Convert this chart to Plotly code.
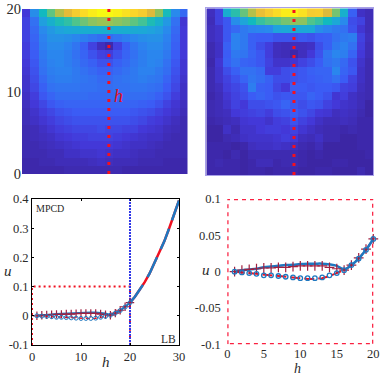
import plotly.graph_objects as go

W, H = 382, 375

parula = [[0, "#3c26a4"], [0.08, "#4338d8"], [0.15, "#3b5cf5"], [0.25, "#2a86ee"], [0.33, "#1fa3dc"],
          [0.42, "#12b9bf"], [0.52, "#4fc48c"], [0.63, "#a3c250"], [0.75, "#e2b93a"], [0.87, "#fbd22c"], [1, "#f8f812"]]

# rows listed from the top (h = 20) to the bottom (h = 0)
left_map = [
 [.08,.27,.42,.54,.66,.76,.84,.90,.96,1.0,1.0,.97,.92,.88,.84,.74,.60,.43,.26,.18],
 [.10,.20,.32,.38,.44,.47,.52,.56,.60,.62,.62,.60,.58,.54,.50,.44,.38,.30,.20,.07],
 [.10,.18,.26,.30,.33,.35,.36,.37,.37,.37,.37,.37,.37,.36,.35,.33,.31,.26,.18,.08],
 [.10,.17,.24,.28,.28,.27,.25,.23,.21,.19,.19,.21,.23,.25,.27,.28,.28,.24,.17,.08],
 [.09,.16,.23,.26,.26,.24,.21,.16,.10,.04,.01,.10,.16,.21,.24,.26,.26,.23,.16,.08],
 [.09,.15,.22,.25,.25,.23,.20,.17,.13,.10,.09,.13,.17,.20,.23,.25,.25,.22,.15,.08],
 [.08,.14,.21,.24,.25,.23,.21,.18,.16,.13,.13,.16,.18,.21,.23,.25,.24,.20,.14,.07],
 [.07,.13,.20,.23,.24,.24,.22,.20,.18,.16,.16,.18,.20,.22,.24,.24,.22,.19,.13,.07],
 [.06,.12,.18,.22,.23,.23,.22,.21,.20,.18,.18,.20,.21,.22,.23,.22,.21,.17,.12,.06],
 [.06,.11,.16,.20,.21,.21,.21,.20,.20,.19,.19,.20,.20,.21,.21,.20,.19,.15,.11,.05],
 [.05,.09,.14,.17,.19,.19,.19,.19,.18,.18,.18,.18,.19,.19,.19,.18,.16,.13,.09,.05],
 [.04,.08,.11,.14,.16,.17,.17,.17,.17,.17,.17,.17,.17,.17,.16,.15,.13,.10,.07,.04],
 [.03,.06,.09,.11,.13,.14,.15,.15,.15,.15,.15,.15,.15,.14,.13,.12,.10,.08,.06,.03],
 [.03,.05,.07,.09,.11,.12,.13,.13,.13,.13,.13,.13,.13,.12,.11,.09,.08,.06,.04,.02],
 [.02,.03,.05,.07,.09,.10,.11,.11,.11,.12,.11,.11,.10,.10,.08,.07,.06,.04,.03,.02],
 [.02,.03,.04,.05,.07,.08,.09,.09,.10,.10,.10,.09,.08,.07,.06,.05,.05,.03,.02,.02],
 [.02,.02,.03,.04,.05,.06,.07,.08,.08,.08,.08,.07,.06,.05,.05,.04,.03,.02,.02,.02],
 [.02,.02,.02,.03,.03,.05,.05,.06,.06,.07,.06,.05,.05,.04,.03,.03,.02,.02,.02,.02],
 [.01,.01,.02,.02,.03,.03,.03,.03,.04,.05,.04,.03,.03,.03,.02,.02,.02,.01,.01,.01],
 [.01,.01,.01,.01,.01,.02,.02,.02,.02,.02,.02,.02,.01,.01,.01,.01,.01,.01,.01,.01],
]
right_map = [
 [.04,.10,.37,.46,.55,.66,.78,.84,.90,.96,.98,.92,.84,.85,.74,.57,.38,.16,.05,.03],
 [.03,.10,.14,.27,.34,.42,.48,.52,.53,.57,.60,.60,.52,.48,.42,.35,.26,.12,.10,.03],
 [.04,.06,.14,.18,.22,.24,.25,.26,.33,.35,.36,.35,.35,.27,.24,.22,.20,.13,.07,.03],
 [.04,.06,.14,.24,.22,.16,.15,.15,.13,.13,.13,.14,.13,.15,.16,.20,.22,.23,.10,.04],
 [.02,.05,.16,.24,.22,.16,.12,.09,.04,.03,.04,.04,.05,.12,.16,.22,.24,.20,.09,.03],
 [.02,.05,.15,.22,.21,.17,.14,.09,.04,.03,.01,.04,.08,.13,.21,.25,.23,.17,.08,.03],
 [.01,.07,.16,.20,.17,.16,.14,.10,.06,.06,.07,.10,.12,.15,.20,.22,.18,.13,.06,.02],
 [.02,.06,.12,.16,.20,.20,.18,.09,.09,.12,.13,.14,.16,.17,.17,.25,.17,.14,.05,.02],
 [.02,.06,.10,.13,.17,.21,.19,.16,.12,.12,.13,.14,.15,.16,.17,.20,.15,.10,.05,.02],
 [.02,.04,.09,.11,.13,.23,.16,.15,.11,.08,.15,.15,.14,.15,.15,.14,.10,.09,.04,.02],
 [.01,.03,.07,.10,.12,.15,.17,.15,.13,.14,.14,.14,.17,.15,.13,.07,.09,.05,.03,.02],
 [.02,.03,.06,.10,.08,.12,.12,.13,.14,.17,.14,.12,.14,.13,.10,.08,.06,.05,.03,.00],
 [.02,.03,.04,.08,.09,.10,.11,.09,.12,.13,.15,.13,.11,.08,.07,.04,.05,.04,.02,.00],
 [.01,.02,.03,.04,.07,.08,.08,.06,.09,.10,.13,.10,.08,.05,.03,.03,.04,.03,.01,.01],
 [.00,.00,.05,.02,.06,.06,.08,.09,.09,.08,.10,.07,.05,.03,.02,.02,.01,.02,.01,.01],
 [.00,.00,.02,.03,.05,.06,.06,.06,.07,.09,.08,.04,.03,.05,.02,.02,.00,.00,.01,.01],
 [.01,.01,.01,.00,.01,.04,.05,.05,.06,.05,.04,.02,.01,.03,.00,.00,.00,.00,.01,.01],
 [.01,.01,.00,.02,.00,.02,.02,.02,.02,.02,.02,.01,.00,.01,.00,.00,.00,.00,.00,.01],
 [.01,.02,.01,.01,.00,.01,.03,.03,.01,.02,.02,.01,.00,.00,.00,.01,.01,.00,.00,.00],
 [.01,.01,.01,.01,.00,.01,.01,.00,.01,.01,.01,.00,.00,.01,.01,.00,.00,.00,.02,.00],
]
col_centres = [i + 0.5 for i in range(20)]
row_centres = [19.5 - i for i in range(20)]
probe_x = [10.5, 10.5]
probe_y = [0, 20]

h_mpcd = list(range(1, 21))
u_plus = [0, .002, .003, .004, .005, .005, .006, .006, .007, .008, .008, .008, .008, .006, .004, .002, .009, .019, .031, .045]
u_circle = [0, -.001, -.002, -.003, -.005, -.005, -.006, -.007, -.008, -.009, -.009, -.009, -.008, -.005, -.002, .002, .009, .018, .030, .045]
u_upper = [0, .002, .003, .004, .006, .007, .008, .009, .0095, .0105, .011, .011, .011, .010, .008, .003, .009, .018, .030, .045]
u_lower = [0, -.001, -.003, -.004, -.005, -.006, -.007, -.008, -.0085, -.0095, -.010, -.010, -.009, -.006, -.002, .002, .009, .018, .030, .045]
h_lb = [20, 21, 22, 23, 24, 25, 26, 27, 28, 29, 30]
u_lb = [.045, .065, .09, .115, .145, .18, .215, .255, .30, .345, .395]
box_h = [0, 0, 20, 20]
box_u = [-.1, .1, .1, -.1]
zoom_h = [0, 0, 20, 20, 0]
zoom_u = [-.1, .1, .1, -.1, -.1]
left_xticks = [0, 10, 20, 30]
left_yticks = [-.1, 0, .1, .2, .3, .4]
left_ylabels = ["-0.1", "0", "0.1", "0.2", "0.3", "0.4"]
right_xticks = [0, 5, 10, 15, 20]
right_yticks = [-.1, -.05, 0, .05, .1]
right_ylabels = ["-0.1", "-0.05", "0", "0.05", "0.1"]

BLUE = "#1f78c0"
RED = "#f01020"
FRAME = "#fa2040"
DARKRED = "#a02040"
FONT = "Liberation Serif"
TEXT = "#2a2a2a"
CLEAR = "rgba(0,0,0,0)"

fig = go.Figure()

def px_x(a, b):
    return [a / W, b / W]

def px_y(top, bottom):
    return [1 - bottom / H, 1 - top / H]

for sub, z in (("", left_map), ("2", right_map)):
    fig.add_trace(go.Heatmap(z=z, x=col_centres, y=row_centres, colorscale=parula, zmin=0, zmax=1,
                             showscale=False, xaxis="x" + sub, yaxis="y" + sub, hoverinfo="skip"))
    fig.add_trace(go.Scatter(x=probe_x, y=probe_y, mode="lines", xaxis="x" + sub, yaxis="y" + sub,
                             line=dict(color="#f5101e", width=3, dash="3px,6px"), showlegend=False, cliponaxis=False))

# lower left
ax = dict(xaxis="x3", yaxis="y3", showlegend=False, cliponaxis=False)
fig.add_trace(go.Scatter(x=h_lb, y=u_lb, mode="lines", line=dict(color=RED, width=2.5), **ax))
fig.add_trace(go.Scatter(x=h_lb, y=u_lb, mode="lines", line=dict(color=BLUE, width=2.5, dash="22px,9px"), **ax))
fig.add_trace(go.Scatter(x=box_h, y=box_u, mode="lines", line=dict(color=RED, width=2, dash="2px,3px"), **ax))
fig.add_trace(go.Scatter(x=[20, 20], y=[-.1, .4], mode="lines", line=dict(color="#3038e8", width=2, dash="2px,1px"), **ax))
fig.add_trace(go.Scatter(x=h_mpcd, y=u_lower, mode="lines", line=dict(color=RED, width=1.2, dash="4px,3px"), **ax))
fig.add_trace(go.Scatter(x=h_mpcd, y=u_upper, mode="lines", line=dict(color=BLUE, width=2), **ax))
fig.add_trace(go.Scatter(x=h_mpcd, y=u_plus, mode="markers",
                         marker=dict(symbol="cross-thin-open", size=6, color=DARKRED, line=dict(width=1.2)), **ax))
fig.add_trace(go.Scatter(x=h_mpcd, y=u_circle, mode="markers",
                         marker=dict(symbol="circle-open", size=4, color=BLUE, line=dict(width=1)), **ax))

# lower right
ax = dict(xaxis="x4", yaxis="y4", showlegend=False, cliponaxis=False)
fig.add_trace(go.Scatter(x=zoom_h, y=zoom_u, mode="lines", line=dict(color=FRAME, width=2.5, dash="4px,4px"), **ax))
fig.add_trace(go.Scatter(x=h_mpcd, y=u_lower, mode="lines", line=dict(color=RED, width=2, dash="10px,4px"), **ax))
fig.add_trace(go.Scatter(x=h_mpcd, y=u_upper, mode="lines", line=dict(color=BLUE, width=2.5, shape="spline"), **ax))
fig.add_trace(go.Scatter(x=h_mpcd, y=u_plus, mode="markers",
                         marker=dict(symbol="cross-thin-open", size=7, color=DARKRED, line=dict(width=1.2)), **ax))
fig.add_trace(go.Scatter(x=h_mpcd, y=u_circle, mode="markers",
                         marker=dict(symbol="circle-open", size=4.5, color=BLUE, line=dict(width=1.3)), **ax))

tick_font = dict(family=FONT, size=12.5, color=TEXT)
hide = dict(showgrid=False, zeroline=False, showticklabels=False, ticks="")

def label(text, x, y, size, color=TEXT):
    return dict(text=text, x=x / W, y=1 - y / H, xref="paper", yref="paper", showarrow=False,
                xanchor="center", yanchor="middle", font=dict(family=FONT, size=size, color=color))

fig.update_layout(
    template="none",
    width=W, height=H, autosize=False, margin=dict(l=0, r=0, t=0, b=0),
    paper_bgcolor="white", plot_bgcolor="white", showlegend=False,
    xaxis=dict(domain=px_x(22, 187.5), range=[0, 20], **hide),
    yaxis=dict(domain=px_y(9, 174), range=[0, 20], showgrid=False, zeroline=False, tickvals=[0, 10, 20],
               ticks="", tickfont=dict(family=FONT, size=14.5, color=TEXT), ticklen=0, showline=False),
    xaxis2=dict(domain=px_x(206.3, 373.3), range=[0, 20], showline=True, linecolor="#a8a0e8", mirror=True, linewidth=1, anchor="y2", **hide),
    yaxis2=dict(domain=px_y(8.3, 175), range=[0, 20], showline=True, linecolor="#a8a0e8", mirror=True, linewidth=1, anchor="x2", **hide),
    xaxis3=dict(domain=px_x(32, 179), range=[0, 30], tickvals=left_xticks, showgrid=False, zeroline=False,
                showline=True, mirror="allticks", linecolor="black", linewidth=1, ticks="inside", ticklen=2, tickcolor="black",
                tickfont=tick_font, anchor="y3"),
    yaxis3=dict(domain=px_y(199, 345), range=[-.1, .4], tickvals=left_yticks, ticktext=left_ylabels, showgrid=False, zeroline=False,
                showline=True, mirror="allticks", linecolor="black", linewidth=1, ticks="inside", ticklen=2, tickcolor="black",
                tickfont=tick_font, anchor="x3"),
    xaxis4=dict(domain=px_x(227.3, 373.3), range=[0, 20], tickvals=right_xticks, showgrid=False, zeroline=False,
                showline=False, ticks="", tickfont=tick_font, anchor="y4"),
    yaxis4=dict(domain=px_y(199, 344.3), range=[-.1, .1], tickvals=right_yticks, ticktext=right_ylabels, showgrid=False, zeroline=False,
                showline=False, ticks="outside", ticklen=3, tickcolor=CLEAR, tickfont=tick_font, anchor="x4"),
    annotations=[
        label("<i>h</i>", 118, 96, 18, "#e01020"),
        label("MPCD", 50, 208, 10),
        label("LB", 168, 339, 11.5),
        label("<i>u</i>", 8, 271, 15),
        label("<i>h</i>", 106, 362, 15),
        label("<i>u</i>", 205.5, 270, 15),
        label("<i>h</i>", 297, 368.5, 14),
    ],
)

fig.write_html("out.html", config={"displayModeBar": False},
               post_script="document.body.style.margin='0';document.body.style.overflow='hidden';")
